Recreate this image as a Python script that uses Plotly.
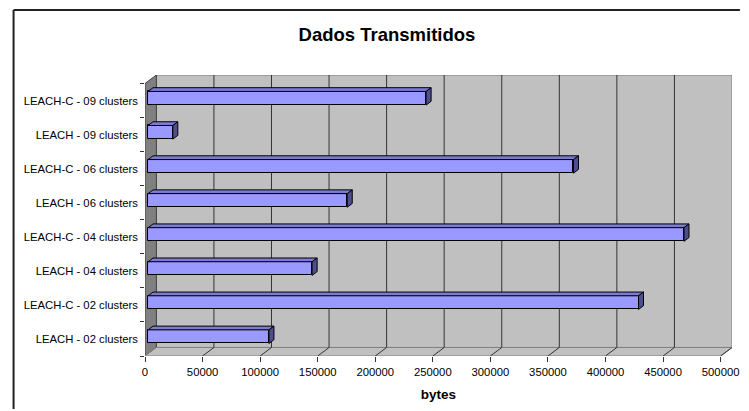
import plotly.graph_objects as go

# Data: bytes transmitted per protocol / cluster configuration (bottom to top)
categories = [
    "LEACH - 02 clusters",
    "LEACH-C - 02 clusters",
    "LEACH - 04 clusters",
    "LEACH-C - 04 clusters",
    "LEACH - 06 clusters",
    "LEACH-C - 06 clusters",
    "LEACH - 09 clusters",
    "LEACH-C - 09 clusters",
]
bytes_sent = [105000, 426000, 142500, 465500, 173000, 369500, 21500, 241500]
x_ticks = [0, 50000, 100000, 150000, 200000, 250000, 300000, 350000, 400000, 450000, 500000]

FONT = "Liberation Sans, Arial, sans-serif"
W, H = 749, 411
M_L, M_R, M_T, M_B = 145, 10, 75, 55
plot_w = W - M_L - M_R
plot_h = H - M_T - M_B

# Pseudo-3D geometry (depth offset of the back wall, in axis units)
X_MAX = x_ticks[-1]
px_per_unit = 582.5 / X_MAX
DX = 11.5 / px_per_unit          # horizontal depth shift
DY = 8.5 / 34.0                  # vertical depth shift (category units)
F0, F1 = 0.27, 0.71              # bar front / back position inside the depth
BAR_HALF = 0.2

n = len(categories)
y_lo, y_hi = -0.5, n - 0.5

WALL = "#c0c0c0"
SIDE = "#808080"
EDGE = "#808080"
GRID = "#333333"

fig = go.Figure()

shapes = []
# back wall
shapes.append(dict(type="rect", xref="x", yref="y", layer="below",
                   x0=DX, x1=X_MAX + DX, y0=y_lo + DY, y1=y_hi + DY,
                   fillcolor=WALL, line=dict(color=EDGE, width=1)))
# left side wall
shapes.append(dict(type="path", xref="x", yref="y", layer="below",
                   path=f"M 0 {y_lo} L {DX} {y_lo + DY} L {DX} {y_hi + DY} L 0 {y_hi} Z",
                   fillcolor=SIDE, line=dict(color="#404040", width=1)))
# floor
shapes.append(dict(type="path", xref="x", yref="y", layer="below",
                   path=(f"M 0 {y_lo} L {X_MAX} {y_lo} L {X_MAX + DX} {y_lo + DY} "
                         f"L {DX} {y_lo + DY} Z"),
                   fillcolor=WALL, line=dict(color=EDGE, width=1)))
# gridlines on the back wall and their continuation across the floor
for v in x_ticks[1:]:
    if v < X_MAX:
        shapes.append(dict(type="line", xref="x", yref="y", layer="below",
                           x0=v + DX, x1=v + DX, y0=y_lo + DY, y1=y_hi + DY,
                           line=dict(color=GRID, width=1)))
    shapes.append(dict(type="line", xref="x", yref="y", layer="below",
                       x0=v, x1=v + DX, y0=y_lo, y1=y_lo + DY,
                       line=dict(color=GRID, width=1)))

# outer chart frame: top and left edges, kept inside the page
frame_left = (12 - M_L) / plot_w
frame_right = (W - 2 - M_L) / plot_w
frame_top = 1 + (M_T - 10) / plot_h
frame_bottom = -(M_B - 2) / plot_h
shapes.append(dict(type="line", xref="paper", yref="paper", layer="above",
                   x0=frame_left, x1=frame_right, y0=frame_top, y1=frame_top,
                   line=dict(color="#222222", width=2)))
shapes.append(dict(type="line", xref="paper", yref="paper", layer="above",
                   x0=frame_left, x1=frame_left, y0=frame_top, y1=frame_bottom,
                   line=dict(color="#222222", width=2)))

# bar front faces
base = F0 * DX
yc = [i + F0 * DY for i in range(n)]
fig.add_trace(go.Bar(
    orientation="h", y=yc, x=bytes_sent, base=[base] * n,
    width=2 * BAR_HALF, marker=dict(color="#9999ff", line=dict(color="#000000", width=1)),
    showlegend=False, hoverinfo="skip",
))

# bar top and end faces
dd = (F1 - F0) * DX
ddy = (F1 - F0) * DY
for v, c in zip(bytes_sent, yc):
    x_end = base + v
    top_x = [base, x_end, x_end + dd, base + dd, base]
    top_y = [c + BAR_HALF, c + BAR_HALF, c + BAR_HALF + ddy, c + BAR_HALF + ddy, c + BAR_HALF]
    fig.add_trace(go.Scatter(x=top_x, y=top_y, mode="lines", fill="toself",
                             fillcolor="#7b7bd6", line=dict(color="#000000", width=1),
                             showlegend=False, hoverinfo="skip"))
    side_x = [x_end, x_end + dd, x_end + dd, x_end, x_end]
    side_y = [c - BAR_HALF, c - BAR_HALF + ddy, c + BAR_HALF + ddy, c + BAR_HALF, c - BAR_HALF]
    fig.add_trace(go.Scatter(x=side_x, y=side_y, mode="lines", fill="toself",
                             fillcolor="#4d4d8f", line=dict(color="#000000", width=1),
                             showlegend=False, hoverinfo="skip"))

fig.update_layout(
    width=W, height=H,
    margin=dict(l=M_L, r=M_R, t=M_T, b=M_B),
    paper_bgcolor="#ffffff", plot_bgcolor="#ffffff",
    font=dict(family=FONT, size=11.3, color="#000000"),
    title=dict(text="<b>Dados Transmitidos</b>", x=387 / W, xref="container",
               xanchor="center", y=1 - 35 / H, yref="container", yanchor="middle",
               font=dict(family=FONT, size=18.5, color="#000000")),
    shapes=shapes,
    bargap=0,
    xaxis=dict(range=[0, X_MAX + DX], tickmode="array", tickvals=x_ticks,
               ticktext=[str(t) for t in x_ticks],
               ticks="outside", ticklen=5, tickcolor="#333333", tickwidth=1,
               showgrid=False, zeroline=False, showline=False, fixedrange=True,
               title=dict(text="<b>bytes</b>", standoff=12,
                          font=dict(family=FONT, size=13.5, color="#000000"))),
    yaxis=dict(range=[y_lo, y_hi + DY], tickmode="array", tickvals=list(range(n)),
               ticktext=categories, ticks="", ticklabelstandoff=6,
               showgrid=False, zeroline=False, showline=False, fixedrange=True,
               minor=dict(tickmode="array", tickvals=[i - 0.5 for i in range(n + 1)],
                          ticks="outside", ticklen=4, tickcolor="#333333", tickwidth=1,
                          showgrid=False)),
)

fig.write_html("out.html")
